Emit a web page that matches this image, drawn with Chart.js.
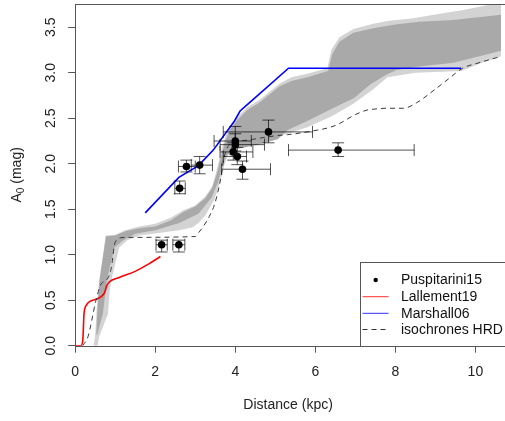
<!DOCTYPE html>
<html>
<head>
<meta charset="utf-8">
<script src="https://cdn.jsdelivr.net/npm/chart.js@4.4.0/dist/chart.umd.min.js"></script>
<style>
  html, body { margin: 0; padding: 0; background: #fff; }
  #c { display: block; }
</style>
</head>
<body>
<canvas id="c" width="505" height="421"></canvas>
<script>
// ticks
const xTicks = [0, 2, 4, 6, 8, 10];
const yTicks = [0, 0.5, 1, 1.5, 2, 2.5, 3, 3.5];

// outer (light) band
const lightUpX = [0.46, 0.50, 0.53, 0.57, 0.60, 0.66, 0.72, 0.76, 1.00, 1.25, 1.60, 2.00, 2.40, 2.70, 3.00, 3.25, 3.42, 3.53, 3.64, 3.74, 3.85, 4.05, 4.30, 4.60, 5.10, 5.40, 5.80, 6.30, 6.40, 6.60, 6.95, 7.45, 7.80, 8.45, 9.00, 9.70, 10.25, 10.70];
const lightUpY = [0.00, 0.12, 0.35, 0.60, 0.72, 0.90, 1.08, 1.21, 1.22, 1.27, 1.31, 1.34, 1.41, 1.49, 1.54, 1.64, 1.75, 1.92, 2.13, 2.28, 2.40, 2.51, 2.62, 2.70, 2.88, 2.95, 2.99, 3.05, 3.25, 3.39, 3.48, 3.54, 3.57, 3.60, 3.64, 3.69, 3.74, 3.77];
const lightLoX = [0.46, 0.56, 0.60, 0.82, 0.86, 0.90, 1.10, 1.30, 1.60, 2.10, 2.60, 2.92, 3.08, 3.25, 3.48, 3.61, 3.72, 3.84, 4.07, 4.80, 5.30, 5.80, 6.40, 6.95, 7.45, 7.80, 8.50, 9.65, 10.10, 10.70];
const lightLoY = [0.00, 0.00, 0.10, 0.35, 0.60, 0.72, 1.08, 1.16, 1.21, 1.24, 1.27, 1.30, 1.35, 1.43, 1.61, 1.78, 1.98, 2.12, 2.20, 2.28, 2.33, 2.40, 2.52, 2.66, 2.82, 2.95, 3.00, 3.02, 3.10, 3.19];

// inner (dark) band
const darkUpX = [0.53, 0.55, 0.58, 0.61, 0.67, 0.73, 0.77, 1.00, 1.27, 1.60, 2.00, 2.40, 2.70, 3.00, 3.25, 3.42, 3.54, 3.66, 3.75, 3.86, 4.07, 4.30, 4.60, 5.10, 5.40, 5.80, 6.32, 6.42, 6.60, 6.95, 7.45, 8.00, 8.60, 9.45, 10.70];
const darkUpY = [0.12, 0.35, 0.55, 0.72, 0.90, 1.08, 1.20, 1.21, 1.26, 1.29, 1.31, 1.38, 1.47, 1.53, 1.62, 1.73, 1.89, 2.10, 2.25, 2.37, 2.49, 2.59, 2.67, 2.85, 2.91, 2.95, 3.02, 3.20, 3.34, 3.44, 3.49, 3.53, 3.56, 3.58, 3.64];
const darkLoX = [0.55, 0.69, 0.79, 0.98, 1.20, 1.50, 2.00, 2.60, 3.08, 3.41, 3.58, 3.66, 3.78, 4.00, 4.57, 5.06, 5.31, 5.80, 6.30, 6.63, 6.96, 7.37, 7.78, 8.03, 8.60, 9.45, 10.00, 10.70];
const darkLoY = [0.12, 0.35, 0.72, 1.08, 1.16, 1.23, 1.27, 1.35, 1.45, 1.63, 1.81, 1.96, 2.09, 2.16, 2.21, 2.27, 2.37, 2.47, 2.58, 2.65, 2.72, 2.87, 2.98, 3.03, 3.07, 3.11, 3.17, 3.25];

// Puspitarini15 points + error bars
const pusX   = [2.16, 2.59, 2.61, 2.78, 3.11, 4.00, 4.00, 3.95, 4.05, 4.18, 4.83, 6.57];
const pusY   = [1.11, 1.11, 1.73, 1.97, 1.985, 2.25, 2.21, 2.13, 2.08, 1.94, 2.35, 2.15];
const pusXLo = [2.02, 2.44, 2.49, 2.58, 2.90, 3.47, 3.62, 3.62, 3.70, 3.66, 3.70, 5.33];
const pusXHi = [2.30, 2.74, 2.75, 3.00, 3.43, 4.40, 4.73, 4.44, 4.28, 4.88, 5.93, 8.47];
const pusYLo = [1.03, 1.03, 1.67, 1.91, 1.89, 2.14, 2.10, 2.04, 1.99, 1.83, 2.23, 2.08];
const pusYHi = [1.16, 1.16, 1.81, 2.04, 2.08, 2.41, 2.33, 2.23, 2.18, 2.03, 2.48, 2.23];

// Lallement19
const lalX = [0.00, 0.14, 0.19, 0.22, 0.28, 0.38, 0.52, 0.65, 0.73, 0.79, 0.85, 1.10, 1.51, 1.84, 2.13];
const lalY = [0.00, 0.00, 0.06, 0.35, 0.445, 0.49, 0.51, 0.54, 0.58, 0.66, 0.70, 0.75, 0.82, 0.90, 0.98];

// Marshall06
const marX = [1.75, 2.59, 3.08, 3.45, 3.98, 4.12, 4.35, 5.33, 9.64];
const marY = [1.46, 1.85, 1.98, 2.15, 2.47, 2.58, 2.67, 3.05, 3.05];

// isochrones HRD
const isoX = [0.19, 0.32, 0.52, 0.65, 0.78, 0.90, 1.00, 1.22, 3.00, 3.08, 3.20, 3.35, 3.48, 3.56, 3.62, 3.67, 3.72, 3.82, 3.99, 4.32, 4.73, 5.06, 5.31, 5.93, 6.50, 7.00, 7.29, 7.46, 7.78, 8.20, 8.53, 8.94, 9.35, 9.68, 10.09, 10.64];
const isoY = [0.00, 0.10, 0.50, 0.68, 0.72, 0.85, 1.14, 1.19, 1.20, 1.24, 1.31, 1.42, 1.55, 1.68, 1.80, 1.93, 2.07, 2.19, 2.24, 2.26, 2.29, 2.31, 2.32, 2.36, 2.42, 2.54, 2.59, 2.60, 2.61, 2.61, 2.67, 2.80, 2.94, 3.05, 3.11, 3.18];

const legendLabels = ['Puspitarini15', 'Lallement19', 'Marshall06', 'isochrones HRD'];

const FONT = '"Liberation Sans", Arial, Helvetica, sans-serif';

function pts(xs, ys) { return xs.map((x, i) => ({ x, y: ys[i] })); }
function poly(ux, uy, lx, ly) { return pts(ux, uy).concat(pts(lx, ly).reverse()); }

// error bars (drawn just before the points)
const errorBars = {
  id: 'errorBars',
  beforeDatasetDraw(chart, args) {
    if (args.index !== 0) return;
    const { ctx, scales: { x, y } } = chart;
    const cap = 6;
    ctx.save();
    ctx.strokeStyle = 'rgba(0,0,0,0.68)';
    ctx.lineWidth = 1;
    pusX.forEach((v, i) => {
      const px = x.getPixelForValue(v), py = y.getPixelForValue(pusY[i]);
      const x0 = x.getPixelForValue(pusXLo[i]), x1 = x.getPixelForValue(pusXHi[i]);
      const y0 = y.getPixelForValue(pusYLo[i]), y1 = y.getPixelForValue(pusYHi[i]);
      ctx.beginPath();
      ctx.moveTo(x0, py); ctx.lineTo(x1, py);
      ctx.moveTo(x0, py - cap); ctx.lineTo(x0, py + cap);
      ctx.moveTo(x1, py - cap); ctx.lineTo(x1, py + cap);
      ctx.moveTo(px, y0); ctx.lineTo(px, y1);
      ctx.moveTo(px - cap, y0); ctx.lineTo(px + cap, y0);
      ctx.moveTo(px - cap, y1); ctx.lineTo(px + cap, y1);
      ctx.stroke();
    });
    ctx.restore();
  }
};

// frame, rotated y labels, y title and the R-style legend
const decor = {
  id: 'decor',
  afterDraw(chart) {
    const { ctx, chartArea: a, scales: { y } } = chart;
    ctx.save();
    ctx.strokeStyle = '#555';
    ctx.lineWidth = 1;
    ctx.strokeRect(Math.round(a.left) + 0.5, Math.round(a.top) + 0.5, 600, Math.round(a.bottom) - Math.round(a.top));

    // y tick labels
    ctx.fillStyle = '#222';
    ctx.font = '14px ' + FONT;
    ctx.textAlign = 'center';
    ctx.textBaseline = 'alphabetic';
    yTicks.forEach(v => {
      ctx.save();
      ctx.translate(55, y.getPixelForValue(v));
      ctx.rotate(-Math.PI / 2);
      ctx.fillText(v.toFixed(1), 0, 0);
      ctx.restore();
    });

    // y title A0 (mag)
    ctx.save();
    ctx.translate(21, (a.top + a.bottom) / 2);
    ctx.rotate(-Math.PI / 2);
    ctx.textAlign = 'left';
    const big = '14px ' + FONT, small = '10px ' + FONT;
    ctx.font = big; const wA = ctx.measureText('A').width, wR = ctx.measureText(' (mag)').width;
    ctx.font = small; const w0 = ctx.measureText('0').width;
    let sx = -(wA + w0 + wR) / 2;
    ctx.font = big; ctx.fillText('A', sx, 0); sx += wA;
    ctx.font = small; ctx.fillText('0', sx, 3); sx += w0;
    ctx.font = big; ctx.fillText(' (mag)', sx, 0);
    ctx.restore();

    // legend
    const lx = 360.5, ly = 262.5;
    ctx.fillStyle = '#fff';
    ctx.fillRect(lx, ly, 200, Math.round(a.bottom) - ly);
    ctx.strokeStyle = '#555';
    ctx.strokeRect(lx, ly, 200, Math.round(a.bottom) - ly + 0.5);
    const rows = [280, 296.7, 313.3, 329.5];
    ctx.font = '14px ' + FONT;
    ctx.textAlign = 'left';
    ctx.textBaseline = 'middle';
    ctx.fillStyle = '#111';
    legendLabels.forEach((t, i) => ctx.fillText(t, 401, rows[i] + 0.5));
    ctx.fillStyle = '#000';
    ctx.beginPath(); ctx.arc(375.7, rows[0], 2.2, 0, Math.PI * 2); ctx.fill();
    const sym = [null, '#ff3030', '#3030ff', '#333'];
    for (let i = 1; i < 4; i++) {
      ctx.strokeStyle = sym[i];
      ctx.lineWidth = 1;
      ctx.setLineDash(i === 3 ? [5, 4] : []);
      ctx.beginPath(); ctx.moveTo(362.5, rows[i]); ctx.lineTo(388.5, rows[i]); ctx.stroke();
    }
    ctx.restore();
  }
};

new Chart(document.getElementById('c'), {
  type: 'line',
  data: {
    datasets: [
      { label: legendLabels[0], data: pts(pusX, pusY), showLine: false, pointRadius: 3.8,
        pointBackgroundColor: '#000', pointBorderColor: '#000', pointBorderWidth: 0, order: 0 },
      { label: legendLabels[1], data: pts(lalX, lalY), borderColor: '#ff0000', borderWidth: 1.6,
        pointRadius: 0, cubicInterpolationMode: 'monotone', fill: false, order: 2 },
      { label: legendLabels[2], data: pts(marX, marY), borderColor: '#0000ff', borderWidth: 1.6,
        pointRadius: 0, tension: 0, fill: false, order: 3 },
      { label: legendLabels[3], data: pts(isoX, isoY), borderColor: '#3a3a3a', borderWidth: 1,
        borderDash: [5, 4], pointRadius: 0, cubicInterpolationMode: 'monotone', fill: false, order: 1 },
      { label: 'dark band', data: poly(darkUpX, darkUpY, darkLoX, darkLoY), borderWidth: 0,
        borderColor: 'rgba(0,0,0,0)', backgroundColor: '#a9a9a9', pointRadius: 0, fill: 'shape', order: 5 },
      { label: 'light band', data: poly(lightUpX, lightUpY, lightLoX, lightLoY), borderWidth: 0,
        borderColor: 'rgba(0,0,0,0)', backgroundColor: '#d3d3d3', pointRadius: 0, fill: 'shape', order: 6 }
    ]
  },
  options: {
    responsive: false,
    animation: false,
    devicePixelRatio: 1,
    layout: { padding: { top: 2.3, right: 0, left: 0, bottom: 0 } },
    plugins: { legend: { display: false }, tooltip: { enabled: false } },
    scales: {
      x: {
        type: 'linear', min: 0, max: 10.64,
        afterBuildTicks: s => { s.ticks = xTicks.map(v => ({ value: v })); },
        afterFit: s => { s.height = 75.3; },
        grid: { drawOnChartArea: false, drawTicks: true, tickLength: 7, color: '#555', tickColor: '#555' },
        border: { display: false },
        ticks: { color: '#222', padding: 11, maxRotation: 0, font: { family: FONT, size: 14 }, callback: v => String(v) },
        title: { display: true, text: 'Distance (kpc)', color: '#222', font: { family: FONT, size: 14 }, padding: { top: 0, bottom: 7.6 } }
      },
      y: {
        type: 'linear', min: 0, max: 3.756,
        afterBuildTicks: s => { s.ticks = yTicks.map(v => ({ value: v })); },
        afterFit: s => { s.width = 75.2; },
        grid: { drawOnChartArea: false, drawTicks: true, tickLength: 7, color: '#555', tickColor: '#555' },
        border: { display: false },
        ticks: { display: false }
      }
    }
  },
  plugins: [errorBars, decor]
});
</script>
</body>
</html>
